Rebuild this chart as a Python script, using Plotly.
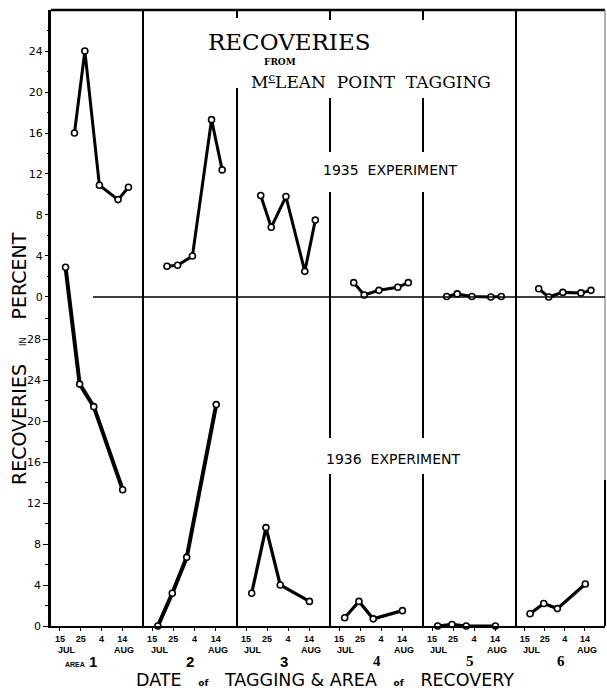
import plotly.graph_objects as go

# ---------------- data ----------------
# x = day of tagging counted from 1 July (32 = 1 Aug, 45 = 14 Aug)
days_1935 = [22, 27, 34, 43, 48]
days_1936 = [17.7, 24.5, 31.3, 45.2]

area1_1935 = [16.0, 24.0, 10.9, 9.5, 10.7]
area2_1935 = [3.0, 3.1, 4.0, 17.3, 12.4]
area3_1935 = [9.9, 6.8, 9.8, 2.5, 7.5]
area4_1935 = [1.4, 0.2, 0.65, 0.95, 1.4]
area5_1935 = [0.05, 0.3, 0.05, 0.0, 0.05]
area6_1935 = [0.8, 0.0, 0.45, 0.4, 0.65]

area1_1936 = [35.0, 23.6, 21.4, 13.3]
area2_1936 = [0.0, 3.2, 6.7, 21.6]
area3_1936 = [3.2, 9.6, 4.0, 2.4]
area4_1936 = [0.8, 2.4, 0.7, 1.5]
area5_1936 = [0.0, 0.15, 0.0, 0.0]
area6_1936 = [1.2, 2.2, 1.7, 4.1]

x_tickvals = [15, 25, 35, 45]
x_ticktext = ["15", "25", "4", "14"]
y_ticks_1936 = [0, 4, 8, 12, 16, 20, 24, 28]
y_ticks_1935 = [0, 4, 8, 12, 16, 20, 24]
area_labels = ["1", "2", "3", "4", "5", "6"]

series_1935 = [area1_1935, area2_1935, area3_1935, area4_1935, area5_1935, area6_1935]
series_1936 = [area1_1936, area2_1936, area3_1936, area4_1936, area5_1936, area6_1936]

# ---------------- layout geometry ----------------
W, H = 607, 690
L, R, T, B = 51, 605, 10, 626
def px(xp):
    return (xp - L) / (R - L)
def py(yp):
    return (B - yp) / (B - T)

bounds = [51, 143, 237, 330, 423, 516, 605]
domains = [[px(bounds[i]), px(bounds[i + 1])] for i in range(6)]
XR = [10.7, 55.0]

fig = go.Figure()
marker = dict(symbol="circle", size=6, color="white", line=dict(color="black", width=1.6))
for i in range(6):
    xa = "x" if i == 0 else f"x{i+1}"
    fig.add_trace(go.Scatter(x=days_1935, y=series_1935[i], xaxis=xa, yaxis="y2",
                             mode="lines+markers", line=dict(color="black", width=3),
                             marker=marker, showlegend=False, cliponaxis=False))
    fig.add_trace(go.Scatter(x=days_1936, y=series_1936[i], xaxis=xa, yaxis="y",
                             mode="lines+markers",
                             line=dict(color="black", width=4 if i < 2 else 3.2),
                             marker=marker, showlegend=False, cliponaxis=False))

tickfont_x = dict(family="Liberation Sans", size=9, color="black", weight="bold")
layout = dict(
    width=W, height=H, margin=dict(l=L, r=W - R, t=T, b=H - B, autoexpand=False),
    paper_bgcolor="white", plot_bgcolor="white",
    font=dict(family="DejaVu Sans", color="black"),
    showlegend=False,
)
for i in range(6):
    key = "xaxis" if i == 0 else f"xaxis{i+1}"
    layout[key] = dict(domain=domains[i], range=XR, anchor="y", automargin=False,
                       tickmode="array", tickvals=x_tickvals, ticktext=x_ticktext,
                       ticks="outside", ticklen=3, tickwidth=1.2, tickcolor="black",
                       tickfont=tickfont_x, showgrid=False, zeroline=False,
                       showline=True, linecolor="black", linewidth=2)
y_range_lower = [0, 60.1]
upper_zero = 32.1
layout["yaxis"] = dict(range=y_range_lower, anchor="x", automargin=False, tickmode="array",
                       tickvals=y_ticks_1936, ticks="outside", ticklen=5, tickwidth=1.3,
                       tickcolor="black", tickfont=dict(size=11, family="DejaVu Sans"),
                       showgrid=False, zeroline=False, showline=True, linecolor="black",
                       linewidth=2.5,
                       minor=dict(tickmode="array", tickvals=[2, 6, 10, 14, 18, 22, 26, 30],
                                  ticks="outside", ticklen=3, tickcolor="black"))
layout["yaxis2"] = dict(range=[-upper_zero, y_range_lower[1] - upper_zero], overlaying="y",
                        anchor="x", side="left", automargin=False, tickmode="array",
                        tickvals=y_ticks_1935,
                        ticks="outside", ticklen=5, tickwidth=1.3, tickcolor="black",
                        tickfont=dict(size=11, family="DejaVu Sans"),
                        showgrid=False, zeroline=False, showline=False,
                        minor=dict(tickmode="array", tickvals=[2, 6, 10, 14, 18, 22, 26],
                                   ticks="outside", ticklen=3, tickcolor="black"))

shapes = []
def vseg(xp, y0p, y1p, color="black", w=2):
    shapes.append(dict(type="line", xref="paper", yref="paper", x0=px(xp), x1=px(xp),
                       y0=py(y0p), y1=py(y1p), line=dict(color=color, width=w)))
# top frame
shapes.append(dict(type="line", xref="paper", yref="paper", x0=0, x1=1, y0=1, y1=1,
                   line=dict(color="black", width=2.5)))
# panel dividers (broken where the titles sit)
vseg(143, 10, 626)
vseg(237, 10, 18); vseg(237, 88, 626)
for xd in (330, 423):
    vseg(xd, 10, 20); vseg(xd, 98, 152); vseg(xd, 192, 438); vseg(xd, 474, 626)
vseg(516, 10, 626)
vseg(605, 10, 480, color="#9a9a9a", w=1.5); vseg(605, 480, 626)
# zero line of the 1935 experiment
shapes.append(dict(type="line", xref="paper", yref="y2", x0=px(93), x1=1, y0=0, y1=0,
                   line=dict(color="black", width=1.5)))
layout["shapes"] = shapes

ann = []
def a(text, xp, yp, size, family="DejaVu Sans", **kw):
    d = dict(text=text, x=px(xp), y=py(yp), xref="paper", yref="paper", showarrow=False,
             font=dict(size=size, family=family, color="black"), xanchor="center", yanchor="middle")
    d.update(kw)
    ann.append(d)

a("RECOVERIES", 289, 42, 23, family="DejaVu Serif")
a("<b>FROM</b>", 280, 62, 9, family="DejaVu Serif")
a("M<sup><u>c</u></sup>LEAN  POINT  TAGGING", 371, 81, 17, family="DejaVu Serif")
a("1935  EXPERIMENT", 390, 170, 14)
a("1936  EXPERIMENT", 393, 459, 14)
a("RECOVERIES&nbsp;&nbsp;&nbsp;<span style='font-size:8px'>IN</span>&nbsp;&nbsp;&nbsp;PERCENT",
  19, 359, 19, textangle=-90)
a("DATE&nbsp;&nbsp;&nbsp;<b><span style='font-size:9px'>of</span></b>&nbsp;&nbsp;&nbsp;TAGGING & AREA&nbsp;&nbsp;&nbsp;<b><span style='font-size:9px'>of</span></b>&nbsp;&nbsp;&nbsp;RECOVERY",
  325, 679.5, 17.5)
# month labels under each panel
for i in range(6):
    xa = "x" if i == 0 else f"x{i+1}"
    for txt, d in (("<b>JUL</b>", 18.5), ("<b>AUG</b>", 46)):
        ann.append(dict(text=txt, x=d, xref=xa, y=py(650), yref="paper", showarrow=False,
                        font=dict(size=9, family="Liberation Sans", color="black"),
                        xanchor="center", yanchor="middle"))
# area numbers
ann.append(dict(text="<span style='font-size:7px'>AREA</span> 1", x=px(81), y=py(661),
                xref="paper", yref="paper", showarrow=False, xanchor="center", yanchor="middle",
                font=dict(size=15, family="Liberation Sans", color="black", weight="bold")))
for i in range(1, 6):
    fam = "Liberation Sans" if i < 3 else "Liberation Serif"
    ann.append(dict(text="<b>" + area_labels[i] + "</b>",
                    x=(domains[i][0] + domains[i][1]) / 2, y=py(661),
                    xref="paper", yref="paper", showarrow=False,
                    xanchor="center", yanchor="middle",
                    font=dict(size=15, family=fam, color="black")))
layout["annotations"] = ann

fig.update_layout(**layout)
fig.write_html("out.html", config={"displayModeBar": False},
               post_script="document.body.style.margin='0';document.body.style.overflow='hidden';")
